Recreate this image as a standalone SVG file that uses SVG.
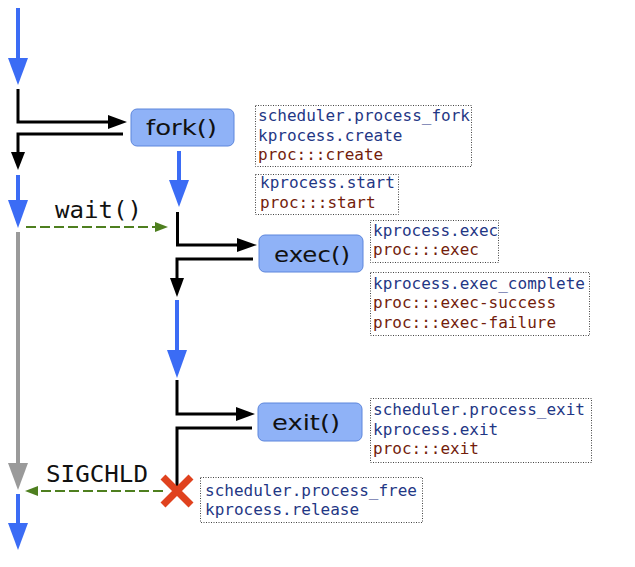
<svg xmlns="http://www.w3.org/2000/svg" width="635" height="567" viewBox="0 0 635 567">
<style>
.blue{stroke:#3b6cf5;stroke-width:4;fill:none}
.bhead{fill:#3b6cf5}
.gray{stroke:#9a9a9a;stroke-width:4;fill:none}
.ghead{fill:#9a9a9a}
.blk{stroke:#000;stroke-width:3;fill:none}
.khead{fill:#000}
.grn{stroke:#4e7f1f;stroke-width:2.2;fill:none;stroke-dasharray:10,4}
.grhead{fill:#4e7f1f}
.node rect{fill:#8fb2f7;stroke:#5d86dc;stroke-width:1}
.node text{font-family:"DejaVu Sans",sans-serif;font-size:22px;fill:#111}
.ann rect{fill:#fff;stroke:#444;stroke-width:1;stroke-dasharray:1,1.5}
.ann text{font-family:"DejaVu Sans Mono",monospace;font-size:16px}
.b{fill:#1f3785}
.r{fill:#731d0c}
.lbl{font-family:"DejaVu Sans Mono",monospace;font-size:23px;fill:#111}
</style>
<g id="connectors">
<line class="blue" x1="18" y1="8" x2="18" y2="60"/>
<polygon class="bhead" points="8,58 28,58 18,85"/>
<polyline class="blk" points="18,89 18,122 110,122"/>
<polygon class="khead" points="108,115 127,122 108,129"/>
<polyline class="blk" points="123,134 18,134 18,154"/>
<polygon class="khead" points="11,152 25,152 18,170"/>
<line class="blue" x1="18" y1="175" x2="18" y2="202"/>
<polygon class="bhead" points="8,200 28,200 18,228"/>
<line class="gray" x1="18" y1="232" x2="18" y2="465"/>
<polygon class="ghead" points="8,463 28,463 18,490"/>
<line class="blue" x1="18" y1="494" x2="18" y2="525"/>
<polygon class="bhead" points="8,523 28,523 18,550"/>
<line class="blue" x1="179" y1="151" x2="179" y2="182"/>
<polygon class="bhead" points="169,180 189,180 179,207"/>
<polyline class="blk" points="177.5,212 177.5,245 239,245"/>
<polygon class="khead" points="237,238 257,245 237,252"/>
<polyline class="blk" points="253,259 177,259 177,280"/>
<polygon class="khead" points="170,278 184,278 177,297"/>
<line class="blue" x1="177" y1="300" x2="177" y2="352"/>
<polygon class="bhead" points="167,350 187,350 177,378"/>
<polyline class="blk" points="177,380 177,414 238,414"/>
<polygon class="khead" points="236,407 255,414 236,421"/>
<polyline class="blk" points="252,428 177,428 177,488"/>
<line class="grn" x1="26" y1="227" x2="156" y2="227"/>
<polygon class="grhead" points="155,222 168,227 155,232"/>
<line class="grn" x1="163" y1="491" x2="37" y2="491"/>
<polygon class="grhead" points="38,486 25,491 38,496"/>
<text class="lbl" x="55" y="218" textLength="87" lengthAdjust="spacingAndGlyphs">wait()</text>
<text class="lbl" x="46" y="482" textLength="102" lengthAdjust="spacingAndGlyphs">SIGCHLD</text>
</g>
<g id="fork" class="node">
<rect x="131" y="109" width="103" height="37" rx="6"/>
<text x="146" y="135" textLength="71" lengthAdjust="spacingAndGlyphs">fork()</text>
</g>
<g id="exec" class="node">
<rect x="259" y="235" width="104" height="37" rx="6"/>
<text x="274" y="262" textLength="76" lengthAdjust="spacingAndGlyphs">exec()</text>
</g>
<g id="exit" class="node">
<rect x="258" y="403" width="104" height="38" rx="6"/>
<text x="272" y="430" textLength="68" lengthAdjust="spacingAndGlyphs">exit()</text>
</g>
<g id="release">
<path d="M163,477 L191,505 M191,477 L163,505" stroke="#e0421e" stroke-width="7" fill="none"/>
</g>
<g id="ann-fork" class="ann">
<rect x="255.5" y="105.5" width="216" height="61"/>
<text x="258" y="121" class="b">scheduler.process_fork</text>
<text x="258" y="141" class="b">kprocess.create</text>
<text x="258" y="160" class="r">proc:::create</text>
</g>
<g id="ann-start" class="ann">
<rect x="255.5" y="174.5" width="143" height="40"/>
<text x="260" y="188" class="b">kprocess.start</text>
<text x="260" y="208" class="r">proc:::start</text>
</g>
<g id="ann-exec" class="ann">
<rect x="370.5" y="220.5" width="128" height="42"/>
<text x="373" y="236" class="b">kprocess.exec</text>
<text x="373" y="255" class="r">proc:::exec</text>
</g>
<g id="ann-exec-complete" class="ann">
<rect x="370.5" y="272.5" width="219" height="63"/>
<text x="373" y="289" class="b">kprocess.exec_complete</text>
<text x="373" y="308" class="r">proc:::exec-success</text>
<text x="373" y="328" class="r">proc:::exec-failure</text>
</g>
<g id="ann-exit" class="ann">
<rect x="370.5" y="398.5" width="221" height="64"/>
<text x="373" y="415" class="b">scheduler.process_exit</text>
<text x="373" y="435" class="b">kprocess.exit</text>
<text x="373" y="454" class="r">proc:::exit</text>
</g>
<g id="ann-free" class="ann">
<rect x="200.5" y="477.5" width="222" height="45"/>
<text x="205" y="496" class="b">scheduler.process_free</text>
<text x="205" y="515" class="b">kprocess.release</text>
</g>
</svg>
